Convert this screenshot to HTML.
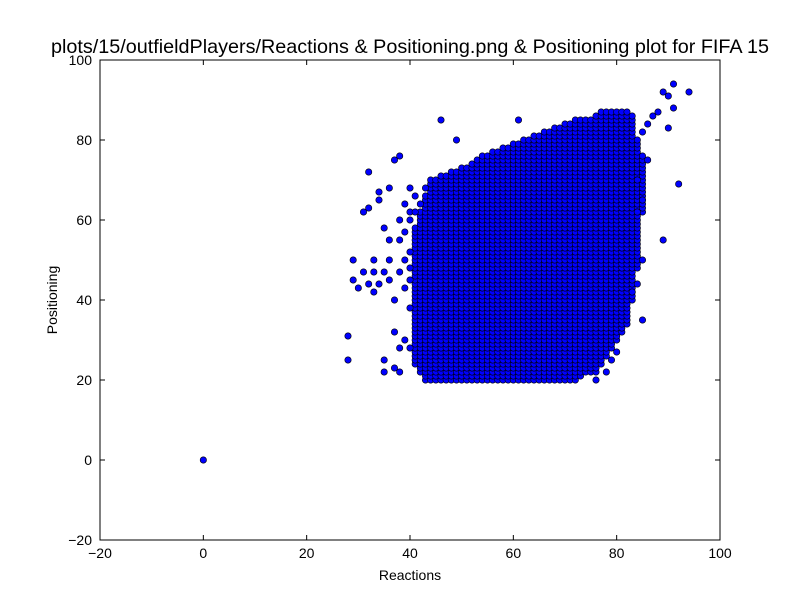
<!DOCTYPE html>
<html><head><meta charset="utf-8"><style>
html,body{margin:0;padding:0;background:#fff;}
svg{display:block;font-family:"Liberation Sans",sans-serif;}
</style></head><body>
<svg id="chart" width="800" height="600"></svg>
<script>
const colX=[41,42,43,44,45,46,47,48,49,50,51,52,53,54,55,56,57,58,59,60,61,62,63,64,65,66,67,68,69,70,71,72,73,74,75,76,77,78,79,80,81,82,83,84,85];
const colYMax=[58,62,66,70,70,71,71,72,72,73,73,74,75,76,76,77,77,78,78,79,79,80,80,81,81,82,82,83,83,84,84,85,85,85,85,86,87,87,87,87,87,87,86,80,76];
const colYMin=[24,22,20,20,20,20,20,20,20,20,20,20,20,20,20,20,20,20,20,20,20,20,20,20,20,20,20,20,20,20,20,20,21,22,22,22,24,26,28,30,32,34,40,48,62];
const outX=[28,28,29,29,31,32,32,33,34,34,35,35,35,36,36,37,37,38,38,39,36,33,34,37,38,39,40,40,39,37,46,49,61,30,31,32,33,35,36,38,39,40,40,38,38,85,86,87,88,89,90,91,94,90,91,92,89,86,84,85,84,83,85,80,76,78,79,84,85,0,40,40,39,40,41,42,43,41,40];
const outY=[31,25,50,45,62,72,63,47,67,65,58,22,25,55,68,75,32,76,60,64,45,50,44,40,28,50,45,68,30,23,85,80,85,43,47,44,42,47,50,55,43,52,38,22,47,82,84,86,87,92,91,94,92,83,88,69,55,75,62,50,44,42,35,27,20,22,25,70,65,0,60,62,57,48,62,64,68,66,28];
const xTicks=[-20,0,20,40,60,80,100];
const yTicks=[-20,0,20,40,60,80,100];

const NS="http://www.w3.org/2000/svg";
const svg=document.getElementById('chart');
const L=100,R=720,T=60,B=540;
const sx=v=>L+(v+20)/120*(R-L);
const sy=v=>B-(v+20)/120*(B-T);
function mk(tag,attrs,parent){const e=document.createElementNS(NS,tag);for(const k in attrs)e.setAttribute(k,attrs[k]);(parent||svg).appendChild(e);return e;}

const pts=mk('g',{});


function dot(x,y){const c=mk('circle',{cx:sx(x),cy:sy(y),r:3.2,fill:'#0000ff',stroke:'#000','stroke-width':0.6},pts);

}
for(let i=0;i<colX.length;i++){for(let y=colYMin[i];y<=colYMax[i];y++)dot(colX[i],y);}
for(let i=0;i<outX.length;i++)dot(outX[i],outY[i]);

const frame=mk('rect',{x:L,y:T,width:R-L,height:B-T,fill:'none',stroke:'#000','stroke-width':1});



xTicks.forEach(v=>{const x=sx(v);
mk('line',{x1:x,x2:x,y1:B,y2:B-5,stroke:'#000'});mk('line',{x1:x,x2:x,y1:T,y2:T+5,stroke:'#000'});
const t=mk('text',{x:x,y:B+18,'font-size':14,'text-anchor':'middle'});t.textContent=v<0?'\u2212'+(-v):v;

});
yTicks.forEach(v=>{const y=sy(v);
mk('line',{x1:L,x2:L+5,y1:y,y2:y,stroke:'#000'});mk('line',{x1:R,x2:R-5,y1:y,y2:y,stroke:'#000'});
const t=mk('text',{x:L-8,y:y+5,'font-size':14,'text-anchor':'end'});t.textContent=v<0?'\u2212'+(-v):v;

});

const title=mk('text',{x:410,y:53,'font-size':19.8,'text-anchor':'middle'});title.textContent='plots/15/outfieldPlayers/Reactions & Positioning.png & Positioning plot for FIFA 15';


const xl=mk('text',{x:410,y:580,'font-size':14,'text-anchor':'middle'});xl.textContent='Reactions';


const yl=mk('text',{x:57,y:300,'font-size':14,'text-anchor':'middle',transform:'rotate(-90 57 300)'});yl.textContent='Positioning';


</script>
</body></html>
